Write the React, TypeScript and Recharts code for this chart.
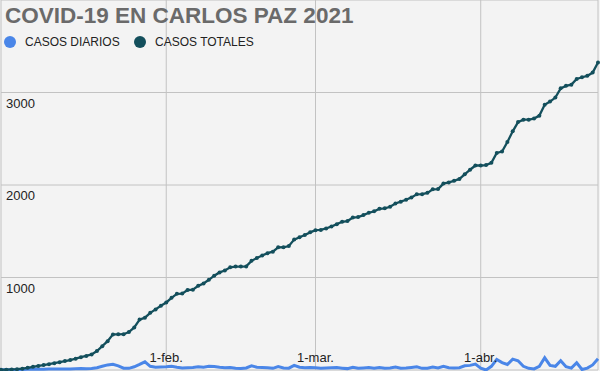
import { LineChart, Line, XAxis, YAxis, CartesianGrid } from 'recharts';

// Jan 1 .. Apr 23, 2021 (one value per day)
const totalCases = [
  2, 4, 6, 9, 14, 24, 35, 44, 53, 63, 74, 84, 96, 108, 122, 138, 152, 168, 205, 258, 312, 385, 386, 387, 410, 460, 545, 566, 618, 655, 695,
  730, 780, 824, 826, 865, 868, 910, 935, 975, 1020, 1055, 1075, 1110, 1118, 1118, 1120, 1180, 1210, 1237, 1263, 1279, 1326, 1327, 1340, 1410, 1435, 1460, 1488,
  1512, 1514, 1530, 1552, 1577, 1602, 1610, 1648, 1653, 1675, 1700, 1715, 1743, 1748, 1765, 1800, 1820, 1840, 1866, 1899, 1901, 1915, 1953, 1956, 2015, 2028, 2045, 2066, 2115, 2165, 2211,
  2211, 2215, 2240, 2347, 2362, 2465, 2580, 2680, 2706, 2706, 2718, 2750, 2867, 2902, 2945, 3045, 3072, 3085, 3146, 3165, 3180, 3215, 3325,
];

const dailyCases = [
  2, 2, 3, 3, 5, 8, 10, 9, 9, 10, 11, 10, 12, 12, 14, 15, 14, 16, 25, 40, 55, 62, 45, 20, 18, 35, 60, 88, 40, 30, 32,
  35, 40, 30, 22, 25, 28, 35, 30, 40, 38, 30, 25, 28, 20, 15, 22, 45, 30, 28, 25, 18, 38, 22, 20, 50, 30, 25, 28,
  24, 18, 22, 25, 26, 20, 15, 30, 18, 22, 26, 18, 28, 20, 22, 32, 20, 22, 28, 34, 18, 20, 32, 22, 40, 24, 22, 25, 45, 50, 64,
  20, 0, 40, 115, 80, 60, 118, 100, 40, 18, 12, 40, 132, 50, 40, 100, 35, 20, 78, 5, 20, 55, 121,
];

// day index -> label
const xTicks = [0, 31, 59, 90];
const xLabels: Record<number, string> = { 31: '1-feb.', 59: '1-mar.', 90: '1-abr.' };
const yTicks = [0, 1000, 2000, 3000, 4000];

const BLUE = '#4a86e8';
const TEAL = '#134f5c';
const FONT = 'Arial, "Liberation Sans", sans-serif';

const data = totalCases.map((t, i) => ({ day: i, total: t, daily: dailyCases[i] }));

const renderXTick = (props: any) => {
  const { x, payload } = props;
  const label = xLabels[payload.value];
  if (!label) return <g key={`x-${payload.value}`} />;
  return (
    <text key={`x-${payload.value}`} x={x} y={362} textAnchor="middle" fontSize={13} fontFamily={FONT} fill="#222">
      {label}
    </text>
  );
};

const renderYTick = (props: any) => {
  const { y, payload } = props;
  const v = payload.value;
  if (v <= 0 || v >= 4000) return <g key={`y-${v}`} />;
  return (
    <text key={`y-${v}`} x={6} y={y + 15} textAnchor="start" fontSize={13} fontFamily={FONT} fill="#222">
      {v}
    </text>
  );
};

export default function App() {
  return (
    <div style={{ position: 'absolute', left: 0, top: 0, width: 600, height: 371, background: '#f3f3f3' }}>
      <LineChart width={600} height={371} data={data} margin={{ top: 0, right: 2, bottom: 0, left: 0 }}>
        <CartesianGrid stroke="#c2c2c2" strokeWidth={1} />
        <XAxis
          dataKey="day"
          type="number"
          domain={[0, 112]}
          ticks={xTicks}
          axisLine={false}
          tickLine={false}
          height={1}
          interval={0}
          tick={renderXTick}
        />
        <YAxis
          type="number"
          domain={[0, 4000]}
          ticks={yTicks}
          axisLine={false}
          tickLine={false}
          width={1}
          interval={0}
          tick={renderYTick}
        />
        <Line type="linear" dataKey="daily" stroke={BLUE} strokeWidth={3} dot={false} isAnimationActive={false} />
        <Line
          type="linear"
          dataKey="total"
          stroke={TEAL}
          strokeWidth={2.3}
          dot={{ r: 2, fill: TEAL, stroke: TEAL, strokeWidth: 0 }}
          isAnimationActive={false}
        />
      </LineChart>
      <svg width={600} height={371} style={{ position: 'absolute', left: 0, top: 0, pointerEvents: 'none' }}>
        <text x={5} y={23} fontSize={22.5} fontWeight="bold" fontFamily={FONT} fill="#6a6a6a">
          COVID-19 EN CARLOS PAZ 2021
        </text>
        <circle cx={10} cy={42} r={6} fill={BLUE} />
        <text x={25} y={46} fontSize={12} fontFamily={FONT} fill="#222">
          CASOS DIARIOS
        </text>
        <circle cx={140} cy={42} r={6} fill={TEAL} />
        <text x={155} y={46} fontSize={12} fontFamily={FONT} fill="#222">
          CASOS TOTALES
        </text>
      </svg>
    </div>
  );
}
